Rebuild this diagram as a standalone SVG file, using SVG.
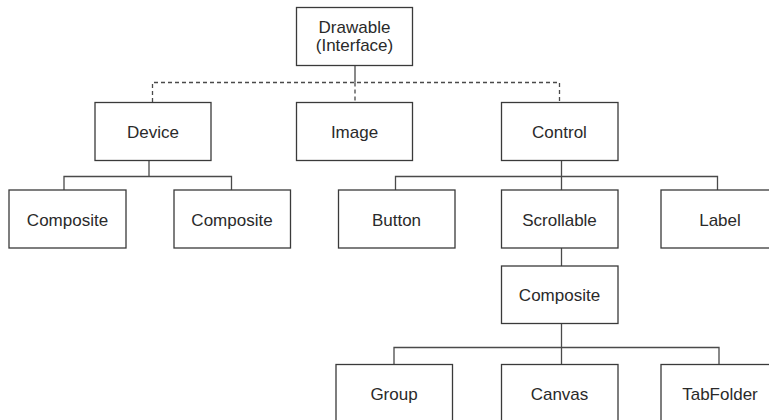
<svg xmlns="http://www.w3.org/2000/svg" width="769" height="420" viewBox="0 0 769 420">
<style>
.box{fill:#fff;stroke:#3a3a3a;stroke-width:1.3}
.t{font-family:"Liberation Sans",Arial,sans-serif;font-size:17px;fill:#2a2a2a;text-anchor:middle}
.c{fill:none;stroke:#4a4a4a;stroke-width:1.3}
.d{fill:none;stroke:#4a4a4a;stroke-width:1.3;stroke-dasharray:4 3}
</style>
<rect width="769" height="420" fill="#fff"/>
<g id="connectors">
<path class="c" d="M355 65.5V82.5"/>
<path class="d" d="M152.5 102V82.5H559.5V102"/>
<path class="d" d="M355 82.5V102"/>
<path class="c" d="M149 160.5V176.5M64 190V176.5H231.5V190"/>
<path class="c" d="M561.5 160.5V190M395.5 190V176.5H717.5V190"/>
<path class="c" d="M561.5 248V266"/>
<path class="c" d="M561.5 323.5V364.5M394 364.5V347.5H719V364.5"/>
</g>
<g id="drawable"><rect class="box" x="296.5" y="7.5" width="116" height="58"/><text class="t" x="354.5" y="33">Drawable</text><text class="t" x="354.5" y="51">(Interface)</text></g>
<g id="device"><rect class="box" x="95" y="102.5" width="116" height="58"/><text class="t" x="153" y="137.5">Device</text></g>
<g id="image"><rect class="box" x="296.5" y="102.5" width="116" height="58"/><text class="t" x="354.5" y="137.5">Image</text></g>
<g id="control"><rect class="box" x="501.5" y="102.5" width="116.5" height="58"/><text class="t" x="559.5" y="137.5">Control</text></g>
<g id="composite1"><rect class="box" x="9" y="190" width="117" height="58"/><text class="t" x="67.5" y="225.5">Composite</text></g>
<g id="composite2"><rect class="box" x="174" y="190" width="116.5" height="58"/><text class="t" x="232" y="225.5">Composite</text></g>
<g id="button"><rect class="box" x="338.5" y="190" width="116.5" height="58"/><text class="t" x="396.5" y="225.5">Button</text></g>
<g id="scrollable"><rect class="box" x="501.5" y="190" width="116.5" height="58"/><text class="t" x="559.5" y="225.5">Scrollable</text></g>
<g id="label"><rect class="box" x="661" y="190" width="116" height="58"/><text class="t" x="720" y="225.5">Label</text></g>
<g id="composite3"><rect class="box" x="501.5" y="266" width="116.5" height="57.5"/><text class="t" x="559.5" y="300.5">Composite</text></g>
<g id="group"><rect class="box" x="336" y="364.5" width="116.5" height="58"/><text class="t" x="394" y="400">Group</text></g>
<g id="canvas"><rect class="box" x="501.5" y="364.5" width="116.5" height="58"/><text class="t" x="559.5" y="400">Canvas</text></g>
<g id="tabfolder"><rect class="box" x="661" y="364.5" width="116" height="58"/><text class="t" x="720" y="400">TabFolder</text></g>
</svg>
